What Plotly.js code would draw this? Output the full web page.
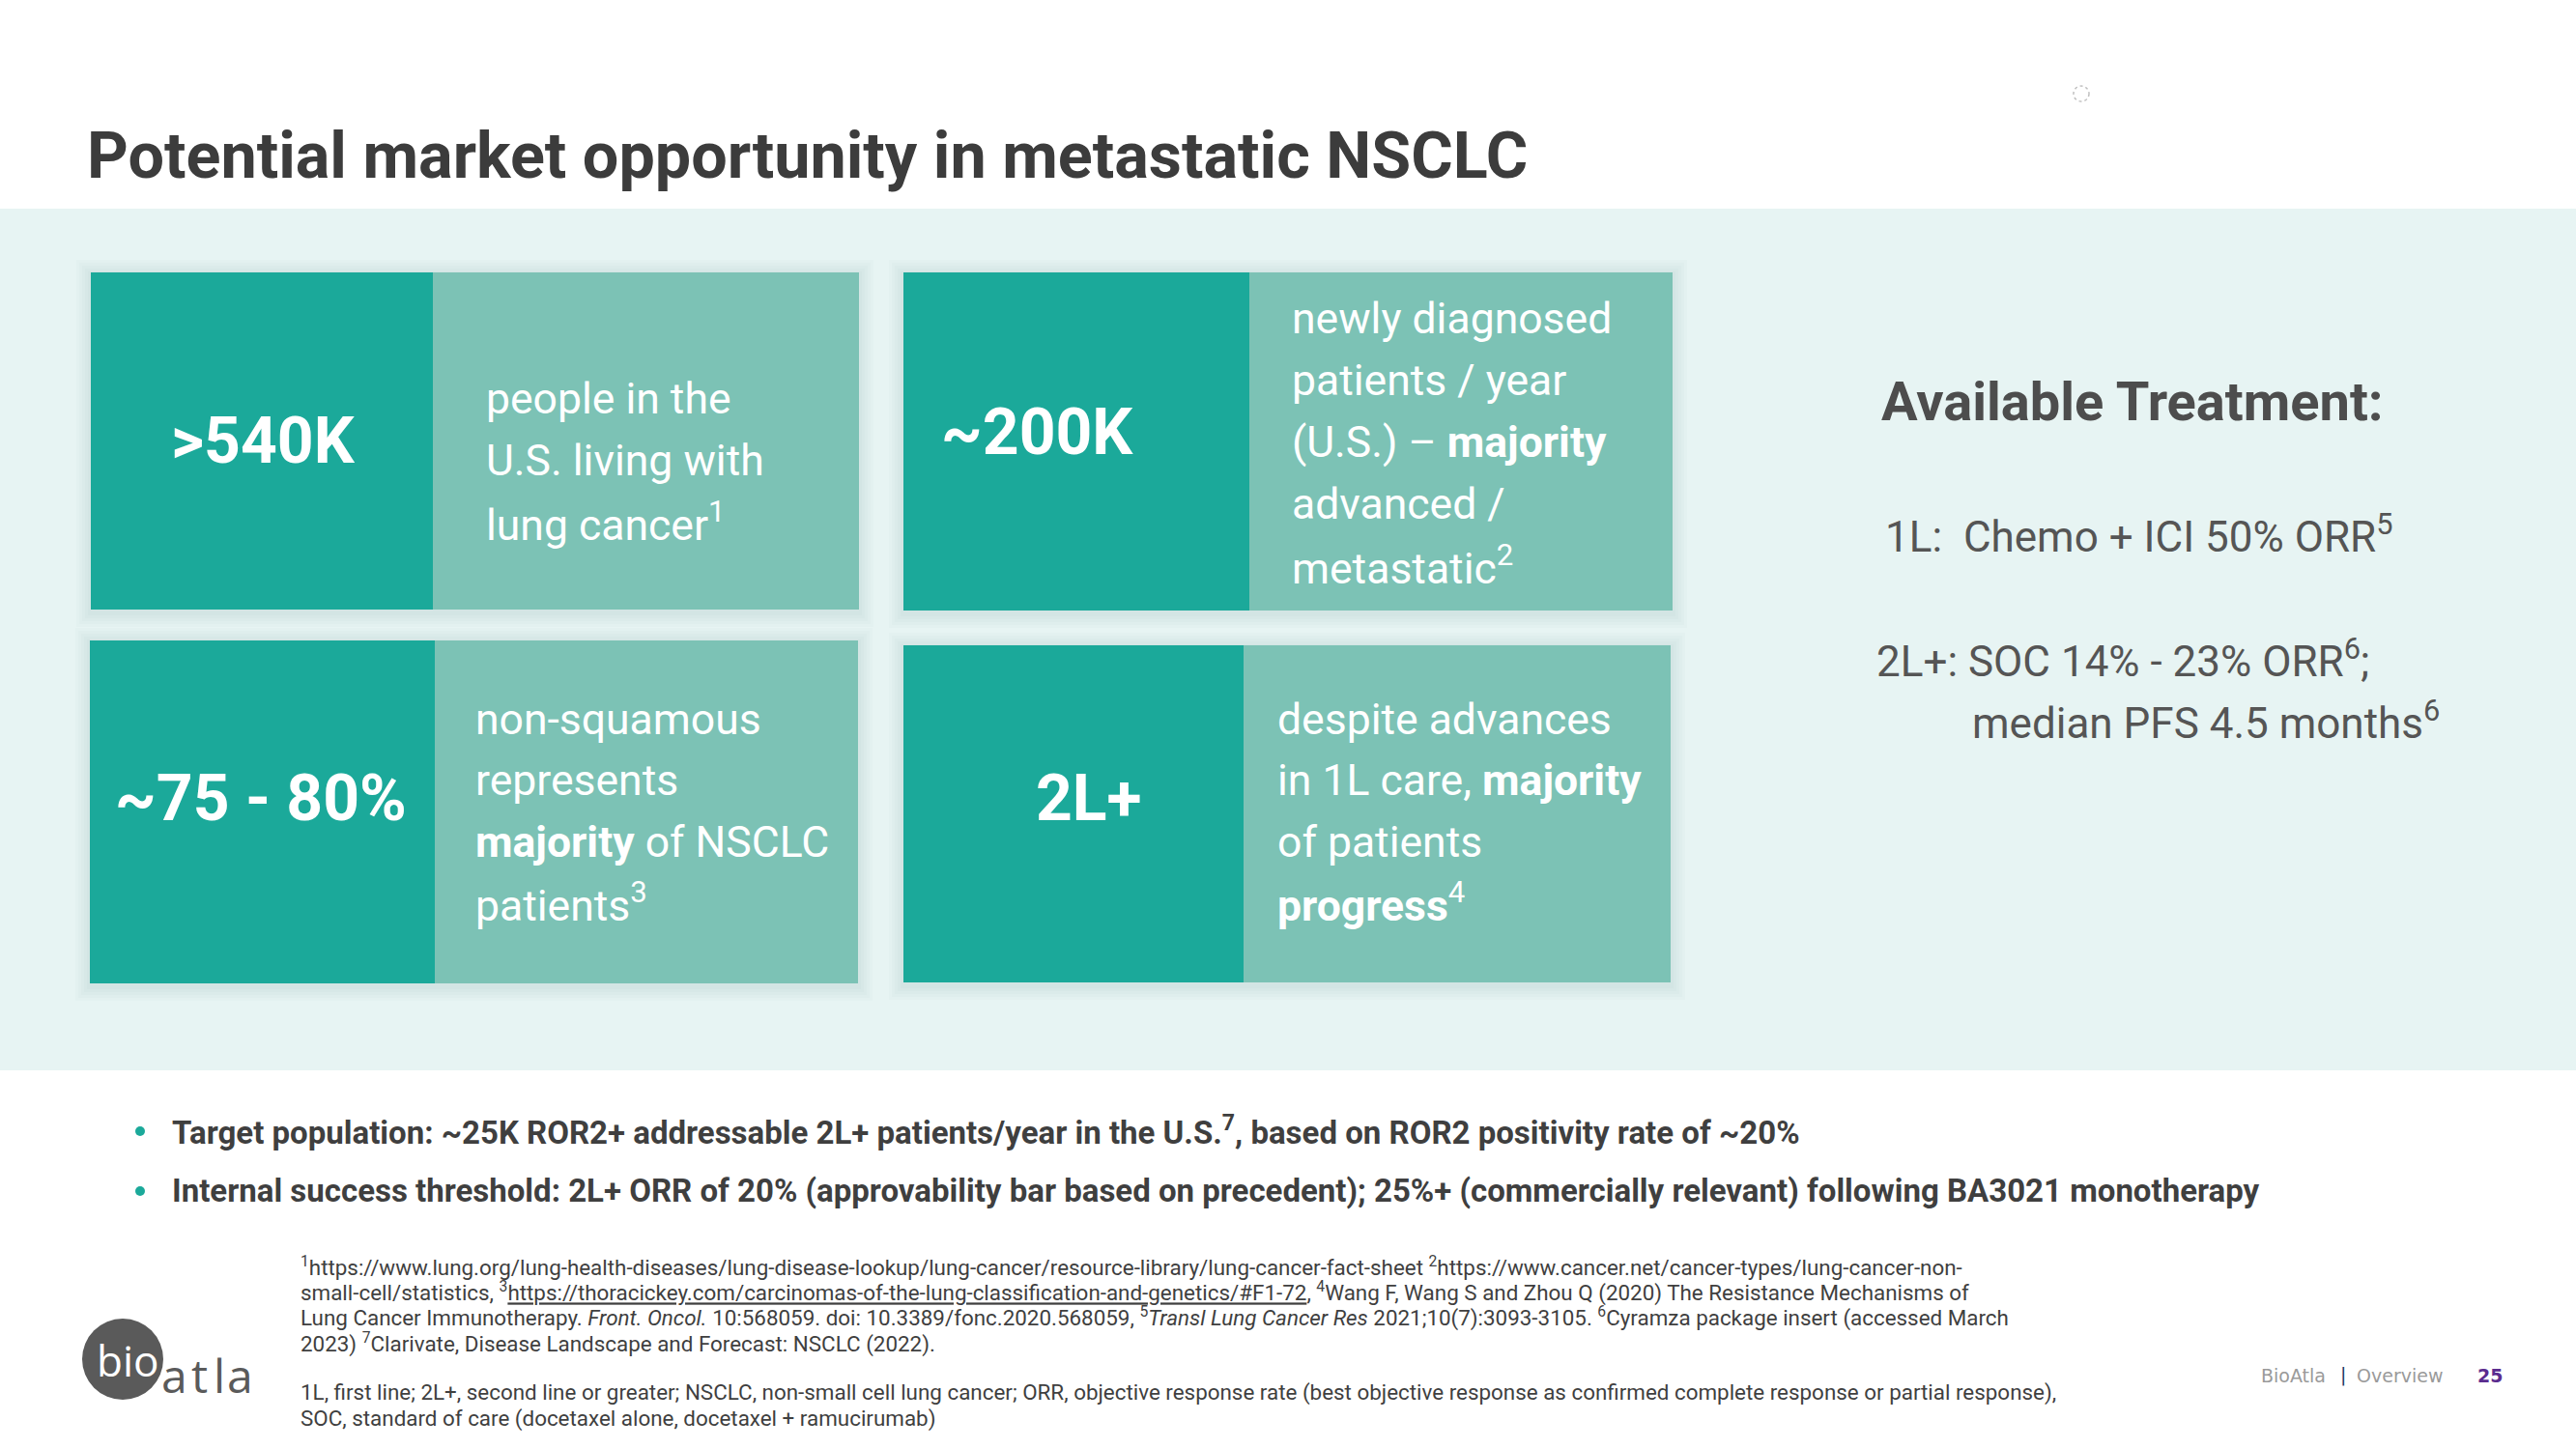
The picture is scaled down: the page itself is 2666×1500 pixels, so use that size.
<!DOCTYPE html>
<html>
<head>
<meta charset="utf-8">
<script src="https://cdn.plot.ly/plotly-3.0.1.min.js"></script>
<style>html,body{margin:0;padding:0;background:#fff;}#chart{width:2666px;height:1500px;}</style>
</head>
<body>
<div id="chart"></div>
<script>
// ---------------- DATA ----------------
const slideTitle = 'Potential market opportunity in metastatic NSCLC';
const statValues = ['>540K', '~200K', '~75 - 80%', '2L+'];
const statDescriptions = [
  ['people in the', 'U.S. living with', 'lung cancer<sup>1</sup>'],
  ['newly diagnosed', 'patients / year', '(U.S.) \u2013 <b>majority</b>', 'advanced /', 'metastatic<sup>2</sup>'],
  ['non-squamous', 'represents', '<b>majority</b> of NSCLC', 'patients<sup>3</sup>'],
  ['despite advances', 'in 1L care, <b>majority</b>', 'of patients', '<b>progress</b><sup>4</sup>']
];
const treatmentHeading = 'Available Treatment:';
const treatmentLines = [
  '1L:\u00a0\u00a0Chemo + ICI 50% ORR<sup>5</sup>',
  '2L+: SOC 14% - 23% ORR<sup>6</sup>;',
  'median PFS 4.5 months<sup>6</sup>'
];
const bulletPoints = [
  'Target population: ~25K ROR2+ addressable 2L+ patients/year in the U.S.<sup>7</sup>, based on ROR2 positivity rate of ~20%',
  'Internal success threshold: 2L+ ORR of 20% (approvability bar based on precedent); 25%+ (commercially relevant) following BA3021 monotherapy'
];
const footnoteLines = [
  '<sup>1</sup>https://www.lung.org/lung-health-diseases/lung-disease-lookup/lung-cancer/resource-library/lung-cancer-fact-sheet <sup>2</sup>https://www.cancer.net/cancer-types/lung-cancer-non-',
  'small-cell/statistics, <sup>3</sup><span style="text-decoration:underline">https://thoracickey.com/carcinomas-of-the-lung-classification-and-genetics/#F1-72</span>, <sup>4</sup>Wang F, Wang S and Zhou Q (2020) The Resistance Mechanisms of',
  'Lung Cancer Immunotherapy. <i>Front. Oncol.</i> 10:568059. doi: 10.3389/fonc.2020.568059, <sup>5</sup><i>Transl Lung Cancer Res</i> 2021;10(7):3093-3105. <sup>6</sup>Cyramza package insert (accessed March',
  '2023) <sup>7</sup>Clarivate, Disease Landscape and Forecast: NSCLC (2022).'
];
const definitionLines = [
  '1L, first line; 2L+, second line or greater; NSCLC, non-small cell lung cancer; ORR, objective response rate (best objective response as confirmed complete response or partial response),',
  'SOC, standard of care (docetaxel alone, docetaxel + ramucirumab)'
];
const logoParts = ['bio', 'atla'];
const footerLabels = ['BioAtla', '|', 'Overview', '25'];

// ---------------- LAYOUT / STYLE ----------------
const W = 2666, H = 1500;
const FONT = 'Roboto, "Open Sans", sans-serif';
const DARK = '#1ba99a', LIGHT = '#7cc2b5', BAND = '#e7f4f3', TEXT = '#3f3f3f', GREY = '#555555';

const tiles = [
  {x0: 94,  x1: 889,  y0: 282, y1: 631,  split: 448,  statX: 272,  statY: 456, descX: 501,  descBase: [428, 492, 556]},
  {x0: 935, x1: 1731, y0: 282, y1: 632,  split: 1293, statX: 1073, statY: 447, descX: 1335, descBase: [345, 409, 473, 537, 601]},
  {x0: 93,  x1: 888,  y0: 663, y1: 1018, split: 450,  statX: 270,  statY: 826, descX: 490,  descBase: [760, 823, 887, 950]},
  {x0: 935, x1: 1729, y0: 668, y1: 1017, split: 1287, statX: 1127, statY: 826, descX: 1320, descBase: [760, 823, 887, 950]}
];

const shapes = [];
const ann = [];
function txt(text, x, baseline, size, opts) {
  opts = opts || {};
  ann.push({
    text: text, x: x, y: baseline - 0.342 * size, xref: 'x', yref: 'y',
    xanchor: opts.xanchor || 'left', yanchor: 'middle', showarrow: false,
    font: {family: opts.family || FONT, size: size, color: opts.color || TEXT},
    align: 'left'
  });
}

// band
shapes.push({type: 'rect', xref: 'x', yref: 'y', x0: 0, x1: W, y0: 216, y1: 1108, fillcolor: BAND, line: {width: 0}, layer: 'below'});

// tiles
tiles.forEach((t, i) => {
  for (let k = 5; k >= 1; k--) {
    shapes.push({type: 'rect', xref: 'x', yref: 'y', x0: t.x0 - 3 * k, x1: t.x1 + 3 * k, y0: t.y0 - 3 * k + 2, y1: t.y1 + 3 * k + 3,
      fillcolor: 'rgba(70,90,90,0.02)', line: {width: 0}, layer: 'below'});
  }
  shapes.push({type: 'rect', xref: 'x', yref: 'y', x0: t.x0, x1: t.split, y0: t.y0, y1: t.y1, fillcolor: DARK, line: {width: 0}, layer: 'below'});
  shapes.push({type: 'rect', xref: 'x', yref: 'y', x0: t.split, x1: t.x1, y0: t.y0, y1: t.y1, fillcolor: LIGHT, line: {width: 0}, layer: 'below'});
  ann.push({text: '<b>' + statValues[i] + '</b>', x: t.statX, y: t.statY, xref: 'x', yref: 'y', xanchor: 'center', yanchor: 'middle',
    showarrow: false, font: {family: FONT, size: 66, color: '#ffffff'}});
  statDescriptions[i].forEach((line, j) => txt(line, t.descX, t.descBase[j], 44.5, {color: '#ffffff'}));
});

// title
txt('<b>' + slideTitle + '</b>', 88, 184, 66.5, {color: '#3c3c3c'});

// right panel
txt('<b>' + treatmentHeading + '</b>', 1945, 435, 56, {color: '#4d4d4d'});
const trX = [1949, 1940, 2039], trB = [568, 697, 761];
treatmentLines.forEach((l, j) => txt(l, trX[j], trB[j], 44, {color: GREY}));

// bullets
const bulB = [1182, 1244];
bulletPoints.forEach((b, j) => {
  shapes.push({type: 'circle', xref: 'x', yref: 'y', x0: 140, x1: 150, y0: bulB[j] - 16, y1: bulB[j] - 6, fillcolor: DARK, line: {width: 0}});
  txt('<b>' + b + '</b>', 176, bulB[j], 33, {color: TEXT});
});

// footnotes
const fnB = [1318, 1345, 1371, 1398];
footnoteLines.forEach((l, j) => txt(l, 309, fnB[j], 22.4, {color: TEXT}));
const dfB = [1449, 1476];
definitionLines.forEach((l, j) => txt(l, 309, dfB[j], 22.4, {color: TEXT}));

// logo
shapes.push({type: 'circle', xref: 'x', yref: 'y', x0: 85, x1: 169, y0: 1365, y1: 1449, fillcolor: '#5a5a5a', line: {width: 0}});
txt(logoParts[0], 98, 1423, 44, {color: '#ffffff', family: '"Open Sans", sans-serif'});
const atlaX = [165, 196, 219, 233];
logoParts[1].split('').forEach((ch, j) => txt(ch, atlaX[j], 1440, 48, {color: '#5a5a5a', family: '"Open Sans", sans-serif'}));

// footer
const ftX = [2338, 2420, 2437, 2562], ftC = ['#9a9a9a', '#1f3864', '#9a9a9a', '#5b2c8f'];
footerLabels.forEach((l, j) => txt(j === 3 ? '<b>' + l + '</b>' : l, ftX[j], 1430, 19, {color: ftC[j], family: '"DejaVu Sans", sans-serif'}));

// small loading icon
shapes.push({type: 'circle', xref: 'x', yref: 'y', x0: 2146, x1: 2162, y0: 89, y1: 105, line: {color: '#c0c0c0', width: 1.5, dash: 'dot'}});

const layout = {
  width: W, height: H,
  margin: {l: 0, r: 0, t: 0, b: 0},
  paper_bgcolor: '#ffffff', plot_bgcolor: '#ffffff',
  xaxis: {range: [0, W], visible: false, fixedrange: true},
  yaxis: {range: [H, 0], visible: false, fixedrange: true},
  showlegend: false,
  shapes: shapes,
  annotations: ann
};
Plotly.newPlot('chart', [{x: [], y: [], type: 'scatter', hoverinfo: 'skip'}], layout, {displayModeBar: false, staticPlot: true});
</script>
</body>
</html>
